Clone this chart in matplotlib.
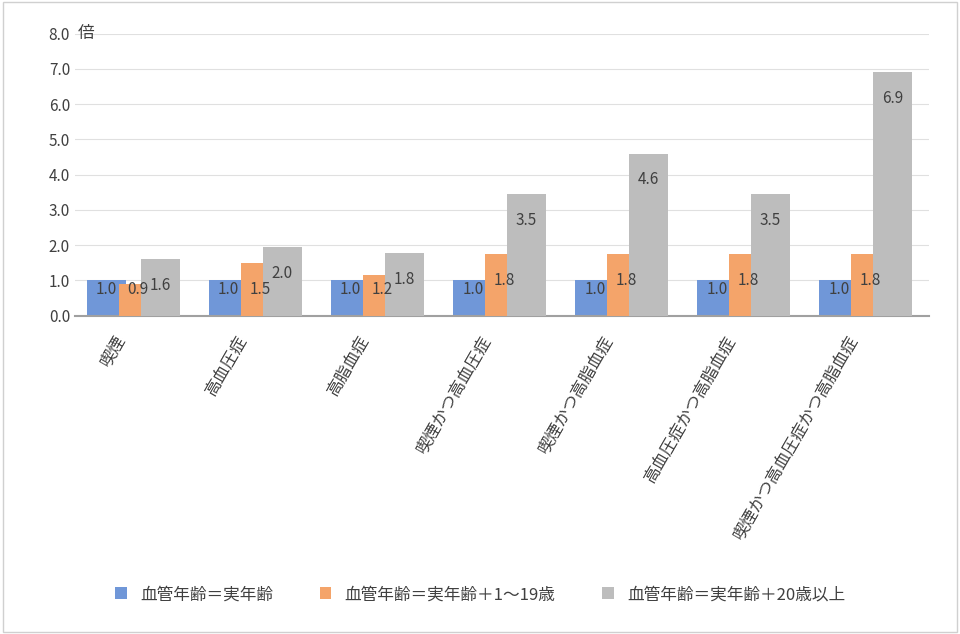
import matplotlib
matplotlib.use("Agg")
import matplotlib.pyplot as plt
import matplotlib.transforms as mtransforms
import numpy as np

plt.rcParams["font.family"] = ["Noto Sans CJK JP", "DejaVu Sans"]

categories = ["喫煙", "高血圧症", "高脂血症", "喫煙かつ高血圧症", "喫煙かつ高脂血症",
              "高血圧症かつ高脂血症", "喫煙かつ高血圧症かつ高脂血症"]
series_names = ["血管年齢＝実年齢", "血管年齢＝実年齢＋1〜19歳", "血管年齢＝実年齢＋20歳以上"]
s_actual = [1.0, 1.0, 1.0, 1.0, 1.0, 1.0, 1.0]
s_1_19 = [0.9, 1.5, 1.15, 1.75, 1.75, 1.75, 1.75]
s_20 = [1.6, 1.95, 1.77, 3.45, 4.6, 3.45, 6.9]
labels_actual = ["1.0"] * 7
labels_1_19 = ["0.9", "1.5", "1.2", "1.8", "1.8", "1.8", "1.8"]
labels_20 = ["1.6", "2.0", "1.8", "3.5", "4.6", "3.5", "6.9"]
yticks = [0, 1, 2, 3, 4, 5, 6, 7, 8]

colors = ["#7097d8", "#f4a46a", "#bdbdbd"]

fig = plt.figure(figsize=(9.6, 6.34), dpi=100)
fig.patches.append(plt.Rectangle((0.003, 0.003), 0.994, 0.994, transform=fig.transFigure,
                                 fill=False, edgecolor="#d0d0d0", lw=1))
ax = fig.add_axes([0.078, 0.502, 0.89, 0.445])
x = np.arange(len(categories))
w = 0.32
offs = [-0.24, 0.02, 0.2]
for i, (vals, labs) in enumerate(zip([s_actual, s_1_19, s_20], [labels_actual, labels_1_19, labels_20])):
    ax.bar(x + offs[i], vals, w, color=colors[i], label=series_names[i], zorder=2 + i)
    for xi, v, lab in zip(x + offs[i], vals, labs):
        ax.text(xi, max(v - 0.75, 0.75), lab, ha="center", va="center", fontsize=11,
                color="#404040", zorder=10)

ax.set_xlim(-0.5, len(categories) - 0.5)
ax.set_ylim(0, 8)
ax.set_yticks(yticks)
ax.set_yticklabels([f"{t:.1f}" for t in yticks], fontsize=11, color="#404040")
ax.text(-0.48, 8.0, "倍", fontsize=12, va="center", ha="left", color="#404040")
ax.grid(axis="y", color="#e0e0e0", lw=0.8, zorder=0)
ax.set_axisbelow(True)
for s in ["top", "right", "left"]:
    ax.spines[s].set_visible(False)
ax.spines["bottom"].set_color("#a0a0a0")
ax.spines["bottom"].set_linewidth(1.5)
ax.tick_params(axis="both", length=0)
ax.tick_params(axis="x", pad=12)
ax.set_xticks(x)
ax.set_xticklabels(categories, rotation=60, ha="right", rotation_mode="anchor",
                   fontsize=12, color="#404040")
shift = mtransforms.ScaledTranslation(-22 / 100, 0, fig.dpi_scale_trans)
for lbl in ax.get_xticklabels():
    lbl.set_transform(lbl.get_transform() + shift)
fig.legend(loc="lower center", bbox_to_anchor=(0.5, 0.025), ncol=3, frameon=False,
           fontsize=12, handlelength=0.7, handleheight=0.7, columnspacing=2.8,
           labelcolor="#404040")
fig.savefig("out.png", dpi=100)
